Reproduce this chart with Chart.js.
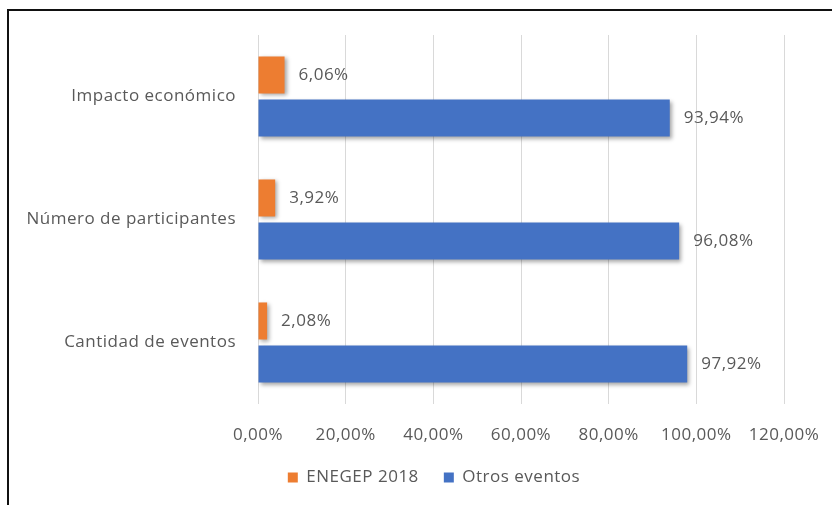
<!DOCTYPE html>
<html>
<head>
<meta charset="utf-8">
<script src="https://cdn.jsdelivr.net/npm/chart.js@4"></script>
<style>
	html, body { margin: 0; padding: 0; background: #fff; }
	#wrap { position: relative; width: 832px; height: 505px; }
	#frame {
		position: absolute; left: 7px; top: 9px; right: 0; bottom: 0;
		border-top: 2px solid #111; border-left: 2px solid #111;
		pointer-events: none;
	}
</style>
</head>
<body>
<div id="wrap">
	<canvas id="myChart1" width="832" height="505"></canvas>
	<div id="frame"></div>
</div>
<script>
const categories = ["Impacto económico", "Número de participantes", "Cantidad de eventos"];
const enegepArr = [6.06, 3.92, 2.08];
const otrosArr = [93.94, 96.08, 97.92];
const seriesNames = ["ENEGEP 2018", "Otros eventos"];

const textColor = "#595959";
const fontFamily = "'Open Sans', 'Noto Sans', sans-serif";
const fontSize = 17;

const fmt = function (v) {
	return v.toFixed(2).replace(".", ",") + "%";
};

// wider text spacing, bar shadows, legend shifted right like the original
const tweaks = {
	id: "tweaks",
	beforeLayout(chart) { chart.ctx.letterSpacing = "0.5px"; },
	afterLayout(chart) { chart.legend.left = 84; },
	beforeDraw(chart) { chart.ctx.letterSpacing = "0.5px"; },
	beforeDatasetsDraw(chart) {
		const c = chart.ctx;
		c.save();
		c.shadowColor = "rgba(0,0,0,0.35)";
		c.shadowBlur = 4;
		c.shadowOffsetX = 2;
		c.shadowOffsetY = 2;
	},
	afterDatasetsDraw(chart) {
		chart.ctx.restore();
	},
};

// draws value labels at the end of each bar
const barLabels = {
	id: "barLabels",
	afterDatasetsDraw(chart) {
		const ctx = chart.ctx;
		ctx.save();
		ctx.font = fontSize + "px " + fontFamily;
		ctx.fillStyle = textColor;
		ctx.textAlign = "left";
		ctx.textBaseline = "middle";
		chart.data.datasets.forEach(function (ds, i) {
			chart.getDatasetMeta(i).data.forEach(function (bar, j) {
				ctx.fillText(fmt(ds.data[j]), bar.x + 14, bar.y);
			});
		});
		ctx.restore();
	},
};

const ctx = document.getElementById("myChart1").getContext("2d");
const myChart = new Chart(ctx, {
	type: "bar",
	data: {
		labels: categories,
		datasets: [
			{
				label: seriesNames[0],
				data: enegepArr,
				backgroundColor: "#ED7D31",
				barPercentage: 0.86,
				categoryPercentage: 0.7,
			},
			{
				label: seriesNames[1],
				data: otrosArr,
				backgroundColor: "#4472C4",
				barPercentage: 0.86,
				categoryPercentage: 0.7,
			},
		],
	},
	options: {
		indexAxis: "y",
		responsive: false,
		animation: false,
		devicePixelRatio: 1,
		layout: { padding: { left: 10, right: 48, top: 35, bottom: 9 } },
		scales: {
			x: {
				min: 0,
				max: 120,
				ticks: {
					stepSize: 20,
					color: textColor,
					font: { family: fontFamily, size: fontSize },
					padding: 21,
					callback: function (v) { return fmt(v); },
				},
				grid: { color: "#d9d9d9", drawTicks: false },
				border: { display: false },
				afterFit: function (scale) {
					scale.height = 40;
					scale.paddingLeft = 0;
					scale.paddingRight = 0;
				},
			},
			y: {
				ticks: {
					color: textColor,
					font: { family: fontFamily, size: fontSize },
					padding: 22,
				},
				grid: { display: false, drawTicks: false },
				border: { display: false },
				afterFit: function (scale) { scale.width = 248; },
			},
		},
		plugins: {
			legend: {
				position: "bottom",
				labels: {
					color: textColor,
					font: { family: fontFamily, size: fontSize },
					boxWidth: 10,
					boxHeight: 10,
					padding: 25,
				},
			},
			tooltip: { enabled: false },
		},
	},
	plugins: [tweaks, barLabels],
});
</script>
</body>
</html>
